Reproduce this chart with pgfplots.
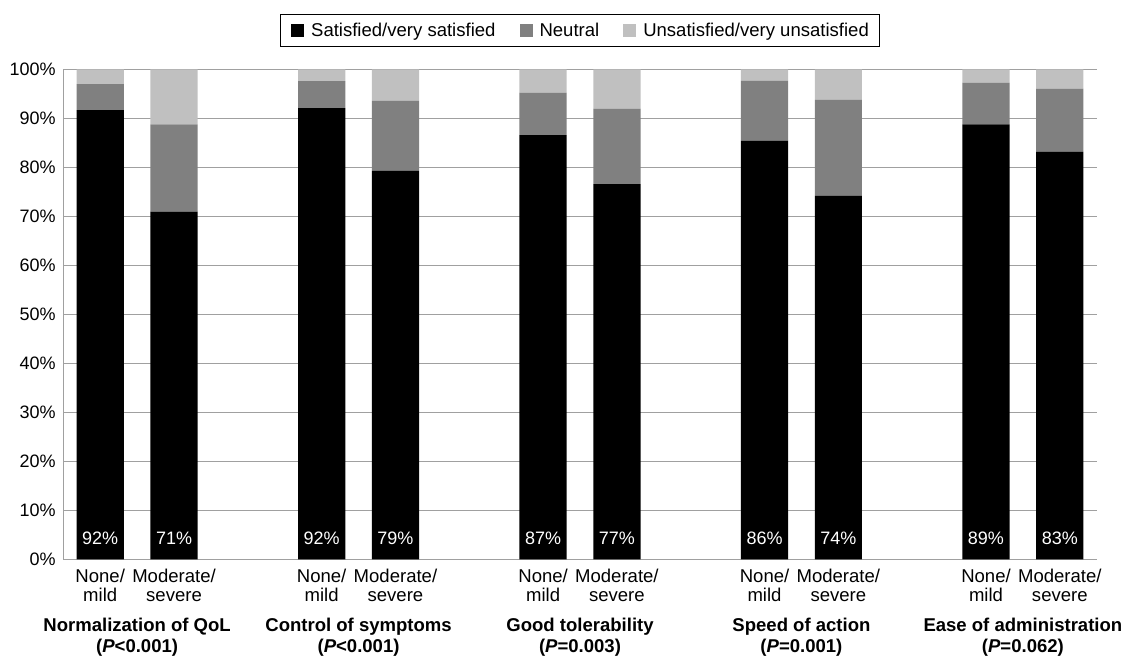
\documentclass[border=0pt]{standalone}
\usepackage{pgfplots}
\pgfplotsset{compat=1.18}
\usepackage{pgfplotstable}
\usepackage{fontspec}
\setmainfont{Liberation Sans}
\definecolor{sat}{HTML}{000000}
\definecolor{neu}{HTML}{808080}
\definecolor{uns}{HTML}{C0C0C0}
\definecolor{gridc}{HTML}{A0A0A0}

\pgfplotstableread{
x sat neu uns
0 91.7 5.3 3.0
1 71.0 17.8 11.2
3 92.1 5.5 2.4
4 79.3 14.3 6.4
6 86.6 8.7 4.7
7 76.6 15.4 8.0
9 85.5 12.2 2.3
10 74.2 19.6 6.2
12 88.8 8.5 2.7
13 83.2 12.9 3.9
}\datatable

\newcommand{\tf}{\fontsize{13.5}{14.6}\selectfont}
\newcommand{\xf}{\fontsize{13.9}{14.6}\selectfont}
\newcommand{\gbf}{\fontsize{13.9}{15}\selectfont\bfseries}
\tikzset{
  barlab/.style={text=white, font=\tf, anchor=center},
  glab/.style={font=\gbf, anchor=base, inner sep=0pt},
}

\begin{document}
\begin{tikzpicture}
\useasboundingbox (0,0) rectangle (843pt,495pt);
\begin{axis}[
  at={(47.475pt,75.525pt)}, anchor=south west,
  scale only axis, width=775.05pt, height=367.35pt,
  ybar stacked, bar width=35.4pt,
  xmin=-0.5, xmax=13.5, ymin=0, ymax=100,
  clip=false,
  axis x line*=bottom, axis y line*=left,
  axis line style={gridc, line width=0.75pt, -},
  ymajorgrids, grid style={gridc, line width=0.75pt},
  major tick length=0pt,
  ytick={0,10,...,100},
  yticklabels={0\%,10\%,20\%,30\%,40\%,50\%,60\%,70\%,80\%,90\%,100\%},
  yticklabel style={font=\tf, inner sep=0pt, xshift=-5.5pt},
  xtick={0,1,3,4,6,7,9,10,12,13},
  xticklabels={None/\\mild,Moderate/\\severe,None/\\mild,Moderate/\\severe,None/\\mild,Moderate/\\severe,None/\\mild,Moderate/\\severe,None/\\mild,Moderate/\\severe},
  xticklabel style={font=\xf, align=center, inner sep=0pt, yshift=-7pt},
  legend style={at={(0.5,1.0796)}, anchor=center, draw=black, line width=0.75pt,
    font=\fontsize{13.9}{15}\selectfont, inner xsep=8.25pt, inner ysep=6.5pt,
    nodes={inner xsep=0pt, inner ysep=0pt, anchor=west},
    /tikz/every even column/.append style={column sep=18pt}},
  legend columns=-1,
  legend image code/.code={\fill[#1] (0pt,-4.875pt) rectangle (9.75pt,4.875pt); \path (15pt,0pt);},
]
\addplot[fill=sat, draw=none] table[x=x, y=sat] {\datatable};
\addplot[fill=neu, draw=none] table[x=x, y=neu] {\datatable};
\addplot[fill=uns, draw=none] table[x=x, y=uns] {\datatable};
\legend{Satisfied/very satisfied, Neutral, Unsatisfied/very unsatisfied}

\coordinate (b0) at (axis cs:0,4.3);
\coordinate (b1) at (axis cs:1,4.3);
\coordinate (b3) at (axis cs:3,4.3);
\coordinate (b4) at (axis cs:4,4.3);
\coordinate (b6) at (axis cs:6,4.3);
\coordinate (b7) at (axis cs:7,4.3);
\coordinate (b9) at (axis cs:9,4.3);
\coordinate (b10) at (axis cs:10,4.3);
\coordinate (b12) at (axis cs:12,4.3);
\coordinate (b13) at (axis cs:13,4.3);

\node[glab] at ([yshift=-54.3pt]axis cs:0.5,0) {Normalization of QoL};
\node[glab] at ([yshift=-69.75pt]axis cs:0.5,0) {(\textit{P}<0.001)};
\node[glab] at ([yshift=-54.3pt]axis cs:3.5,0) {Control of symptoms};
\node[glab] at ([yshift=-69.75pt]axis cs:3.5,0) {(\textit{P}<0.001)};
\node[glab] at ([yshift=-54.3pt]axis cs:6.5,0) {Good tolerability};
\node[glab] at ([yshift=-69.75pt]axis cs:6.5,0) {(\textit{P}=0.003)};
\node[glab] at ([yshift=-54.3pt]axis cs:9.5,0) {Speed of action};
\node[glab] at ([yshift=-69.75pt]axis cs:9.5,0) {(\textit{P}=0.001)};
\node[glab] at ([yshift=-54.3pt]axis cs:12.5,0) {Ease of administration};
\node[glab] at ([yshift=-69.75pt]axis cs:12.5,0) {(\textit{P}=0.062)};
\end{axis}
\node[barlab] at (b0) {92\%};
\node[barlab] at (b1) {71\%};
\node[barlab] at (b3) {92\%};
\node[barlab] at (b4) {79\%};
\node[barlab] at (b6) {87\%};
\node[barlab] at (b7) {77\%};
\node[barlab] at (b9) {86\%};
\node[barlab] at (b10) {74\%};
\node[barlab] at (b12) {89\%};
\node[barlab] at (b13) {83\%};
\end{tikzpicture}
\end{document}
